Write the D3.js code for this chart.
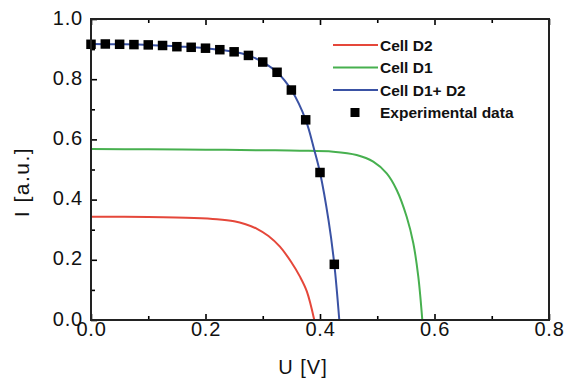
<!DOCTYPE html>
<html><head><meta charset="utf-8">
<script src="https://cdn.jsdelivr.net/npm/d3@7"></script>
<style>body{margin:0;background:#fff}svg{display:block}</style>
</head><body><svg id="c" width="568" height="379"></svg>
<script>
// ---- data ----
const xTicks = [0, 0.2, 0.4, 0.6, 0.8];
const yTicks = [0, 0.2, 0.4, 0.6, 0.8, 1.0];
const xMinor = [0.1, 0.3, 0.5, 0.7];
const yMinor = [0.1, 0.3, 0.5, 0.7, 0.9];
const legendLabels = ["Cell D2", "Cell D1", "Cell D1+ D2", "Experimental data"];

const d2U = [0, 0.1, 0.18, 0.22, 0.25, 0.27, 0.29, 0.31, 0.33, 0.35, 0.365, 0.377, 0.390];
const d2I = [0.343, 0.342, 0.339, 0.335, 0.328, 0.318, 0.303, 0.279, 0.2435, 0.192, 0.144, 0.095, 0];

const d1U = [0, 0.1, 0.2, 0.3, 0.365, 0.423, 0.464, 0.493, 0.5165, 0.534, 0.5514, 0.563, 0.5717, 0.5787];
const d1I = [0.568, 0.567, 0.566, 0.564, 0.5625, 0.559, 0.548, 0.526, 0.487, 0.432, 0.343, 0.255, 0.144, 0];

const sumU = [0, 0.05, 0.1, 0.15, 0.2, 0.25, 0.275, 0.3, 0.325, 0.35, 0.375, 0.39, 0.4, 0.415, 0.425, 0.4337];
const sumI = [0.917, 0.916, 0.914, 0.909, 0.903, 0.891, 0.879, 0.857, 0.823, 0.764, 0.665, 0.565, 0.49, 0.33, 0.185, 0];

const expU = [0, 0.025, 0.05, 0.075, 0.1, 0.125, 0.15, 0.175, 0.2, 0.225, 0.25, 0.275, 0.3, 0.325, 0.35, 0.375, 0.4, 0.425];
const expI = [0.916, 0.917, 0.916, 0.915, 0.914, 0.912, 0.908, 0.906, 0.903, 0.898, 0.891, 0.879, 0.857, 0.823, 0.764, 0.665, 0.490, 0.185];

// ---- layout ----
const W = 568, H = 379;
const m = {left: 91, right: 19, top: 19, bottom: 59};
const svg = d3.select("#c");
const x = d3.scaleLinear().domain([0, 0.8]).range([m.left, W - m.right]);
const y = d3.scaleLinear().domain([0, 1.0]).range([H - m.bottom, m.top]);

const font = "'Liberation Sans', Arial, sans-serif";
const colors = ["#e5473a", "#47b04f", "#3a52a4"];

const zip = (a, b) => a.map((v, i) => [v, b[i]]);
const line = d3.line().x(d => x(d[0])).y(d => y(d[1])).curve(d3.curveCatmullRom.alpha(0.5));

const g = svg.append("g");
[[d2U, d2I], [d1U, d1I], [sumU, sumI]].forEach(([u, i], k) => {
  g.append("path").datum(zip(u, i)).attr("d", line)
    .attr("fill", "none").attr("stroke", colors[k]).attr("stroke-width", 2);
});

const sq = 9.5;
g.selectAll("rect.exp").data(zip(expU, expI)).join("rect").attr("class", "exp")
  .attr("x", d => x(d[0]) - sq / 2).attr("y", d => y(d[1]) - sq / 2)
  .attr("width", sq).attr("height", sq).attr("fill", "#000");

// ---- axes ----
function styleAxis(sel) {
  sel.select(".domain").remove();
  sel.selectAll(".tick line").attr("stroke", "#000").attr("stroke-width", 1.6);
  sel.selectAll("text").attr("font-family", font).attr("font-size", 20)
    .attr("fill", "#111").style("letter-spacing", "0.8px");
}
const xb = svg.append("g").attr("transform", `translate(0,${H - m.bottom})`)
  .call(d3.axisBottom(x).tickValues(xTicks).tickFormat(d3.format(".1f")).tickSizeInner(-6).tickSizeOuter(0).tickPadding(2));
styleAxis(xb);
svg.append("g").attr("transform", `translate(0,${H - m.bottom})`)
  .call(d3.axisBottom(x).tickValues(xMinor).tickFormat("").tickSizeInner(-4).tickSizeOuter(0)).call(styleAxis);
svg.append("g").attr("transform", `translate(0,${m.top})`)
  .call(d3.axisTop(x).tickValues(xTicks).tickFormat("").tickSizeInner(-6).tickSizeOuter(0)).call(styleAxis);
svg.append("g").attr("transform", `translate(0,${m.top})`)
  .call(d3.axisTop(x).tickValues(xMinor).tickFormat("").tickSizeInner(-4).tickSizeOuter(0)).call(styleAxis);
const yl = svg.append("g").attr("transform", `translate(${m.left},0)`)
  .call(d3.axisLeft(y).tickValues(yTicks).tickFormat(d3.format(".1f")).tickSizeInner(-6).tickSizeOuter(0).tickPadding(8));
styleAxis(yl);
yl.selectAll("text").attr("dy", "0.25em");
svg.append("g").attr("transform", `translate(${m.left},0)`)
  .call(d3.axisLeft(y).tickValues(yMinor).tickFormat("").tickSizeInner(-4).tickSizeOuter(0)).call(styleAxis);

// frame
svg.append("rect").attr("x", m.left).attr("y", m.top)
  .attr("width", W - m.left - m.right).attr("height", H - m.top - m.bottom)
  .attr("fill", "none").attr("stroke", "#222").attr("stroke-width", 2);

// titles
svg.append("text").attr("x", 303).attr("y", 374).attr("text-anchor", "middle")
  .attr("font-family", font).attr("font-size", 20).style("letter-spacing", "1px")
  .attr("fill", "#111").text("U [V]");
svg.append("text").attr("transform", "translate(29,182) rotate(-90)").attr("text-anchor", "middle")
  .attr("font-family", font).attr("font-size", 21).style("letter-spacing", "1.5px")
  .attr("fill", "#111").text("I [a.u.]");

// legend
const lg = svg.append("g");
legendLabels.forEach((lab, k) => {
  const ly = 45 + k * 22.5;
  if (k < 3) {
    lg.append("line").attr("x1", 333).attr("x2", 378).attr("y1", ly).attr("y2", ly)
      .attr("stroke", colors[k]).attr("stroke-width", 2);
  } else {
    lg.append("rect").attr("x", 355 - 4.5).attr("y", ly - 4.5).attr("width", 9).attr("height", 9).attr("fill", "#000");
  }
  lg.append("text").attr("x", 380).attr("y", ly + 5.5).attr("font-family", font)
    .attr("font-size", 15.5).attr("font-weight", "bold").attr("fill", "#111").text(lab);
});
</script></body></html>
